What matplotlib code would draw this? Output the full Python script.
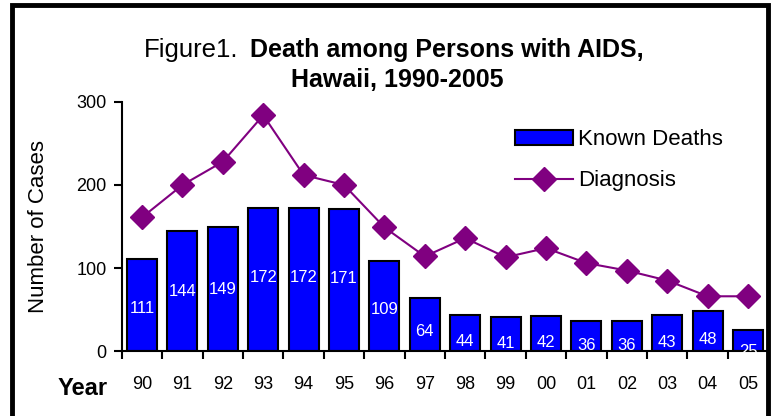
import numpy as np
import matplotlib.pyplot as plt
import matplotlib.patches as mpatches

years = ['90','91','92','93','94','95','96','97','98','99','00','01','02','03','04','05']
known_deaths = [111, 144, 149, 172, 172, 171, 109, 64, 44, 41, 42, 36, 36, 43, 48, 25]
diagnosis = [161, 200, 228, 284, 212, 200, 149, 114, 136, 113, 124, 106, 97, 85, 66, 66]

plt.rcParams['font.family'] = ['Liberation Sans', 'DejaVu Sans']

fig = plt.figure(figsize=(7.76, 4.16), dpi=100, facecolor='white')
ax = fig.add_axes([0.157, 0.156, 0.833, 0.599])

x = np.arange(len(years))
bars = ax.bar(x, known_deaths, width=0.74, color='#0000FF', edgecolor='black',
              linewidth=1.5, label='Known Deaths', zorder=2)
line, = ax.plot(x, diagnosis, color='#800080', linewidth=1.5, marker='D',
                markersize=12, label='Diagnosis', zorder=3)

for xi, v in zip(x, known_deaths):
    ax.text(xi, 0.6 * v - 15, str(v), ha='center', va='center', color='white',
            fontsize=12, zorder=4)

ax.set_xlim(-0.5, len(years) - 0.5)
ax.set_ylim(0, 300)
ax.set_yticks([0, 100, 200, 300])
ax.set_yticklabels(['0', '100', '200', '300'], fontsize=13)

# ticks at the category boundaries, labels centred under the bars
ax.set_xticks(np.arange(len(years) + 1) - 0.5)
ax.set_xticklabels([])
ax.set_xticks(x, minor=True)
ax.set_xticklabels(years, minor=True, fontsize=13)
ax.tick_params(axis='x', which='minor', length=0, pad=18)
ax.tick_params(axis='x', which='major', length=6, width=1.5, direction='out')
ax.tick_params(axis='y', length=6, width=1.5, direction='out', pad=5)

ax.spines['top'].set_visible(False)
ax.spines['right'].set_visible(False)
ax.spines['left'].set_linewidth(1.5)
ax.spines['bottom'].set_linewidth(1.5)

ax.set_ylabel('Number of Cases', fontsize=16, labelpad=20)

ax.legend([bars, line], ['Known Deaths', 'Diagnosis'], loc='upper left',
          bbox_to_anchor=(0.577, 0.97), frameon=False, fontsize=16,
          handlelength=2.6, handletextpad=0.25, labelspacing=0.9)

fig.text(0.307, 0.863, 'Figure1.', ha='right', va='baseline', fontsize=18.5)
fig.text(0.322, 0.863, 'Death among Persons with AIDS,', ha='left',
         va='baseline', fontsize=18, fontweight='bold')
fig.text(0.512, 0.79, 'Hawaii, 1990-2005', ha='center', va='baseline',
         fontsize=18, fontweight='bold')
fig.text(0.107, 0.065, 'Year', ha='center', va='center', fontsize=17,
         fontweight='bold')

# outer frame
fig.patches.append(mpatches.Rectangle((12 / 776, -0.05), 756 / 776, 1.05 - 5 / 416,
                                      transform=fig.transFigure, fill=False,
                                      edgecolor='black', linewidth=3.5))

plt.savefig('out.png', dpi=100, facecolor=fig.get_facecolor())
